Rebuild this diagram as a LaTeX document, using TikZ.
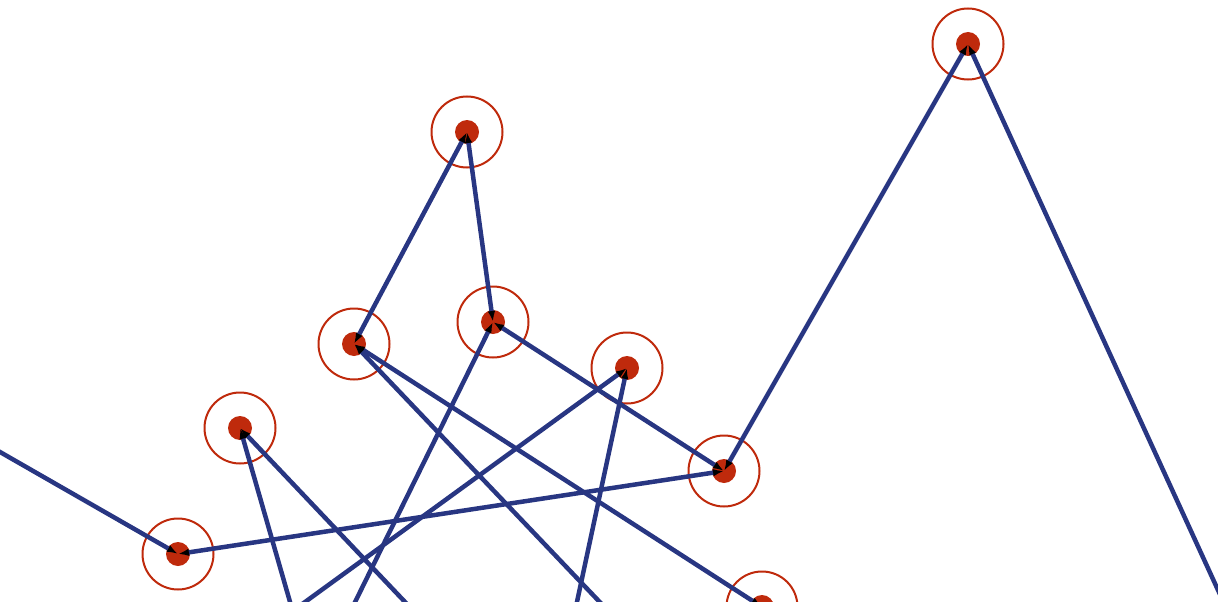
\documentclass[tikz,border=0pt]{standalone}
\usetikzlibrary{arrows.meta}
\definecolor{siteRed}{RGB}{191, 42, 12}
\definecolor{linkBlue}{RGB}{40, 54, 130}
\tikzset{
    site/.style={circle, draw=siteRed, line width=2pt, minimum size=71pt, inner sep=0pt},
    link/.style={draw=linkBlue, line width=4.5pt, {Latex[black,length=11pt,width=7.5pt]}-{Latex[black,length=11pt,width=7.5pt]}}
}

\begin{document}
\begin{tikzpicture}[x=1pt, y=-1pt]
            \useasboundingbox (0,0) rectangle (1218,602);
            \clip (0,0) rectangle (1218,602);

            \node (a) [site] at (968,44) {};
            \node (b) [site] at (467,132) {};
            \node (c) [site] at (493,322) {};
            \node (d) [site] at (354,344) {};
            \node (e) [site] at (627,368) {};
            \node (f) [site] at (240,428) {};
            \node (g) [site] at (724,471) {};
            \node (h) [site] at (178,554) {};
            \node (i) [site] at (762,607) {};
            \foreach \n in {a,b,c,d,e,f,g,h,i}
                \fill [siteRed] (\n.center) circle (12pt);

            % ends outside the frame
            \coordinate (west) at (-178,350);
            \coordinate (southeast) at (1250,660);
            \coordinate (dlow) at (654,659);
            \coordinate (clow) at (327,659);
            \coordinate (elow1) at (228,658);
            \coordinate (elow2) at (565,658);
            \coordinate (flow1) at (307,661);
            \coordinate (flow2) at (461,661);

            \draw [link] (west) -- (h.center);
            \draw [link] (h.center) -- (g.center);
            \draw [link] (g.center) -- (a.center);
            \draw [link] (a.center) -- (southeast);
            \draw [link] (c.center) -- (g.center);
            \draw [link] (c.center) -- (b.center);
            \draw [link] (b.center) -- (d.center);
            \draw [link] (d.center) -- (i.center);
            \draw [link] (d.center) -- (dlow);
            \draw [link] (c.center) -- (clow);
            \draw [link] (e.center) -- (elow1);
            \draw [link] (e.center) -- (elow2);
            \draw [link] (f.center) -- (flow1);
            \draw [link] (f.center) -- (flow2);
        \end{tikzpicture}
\end{document}
